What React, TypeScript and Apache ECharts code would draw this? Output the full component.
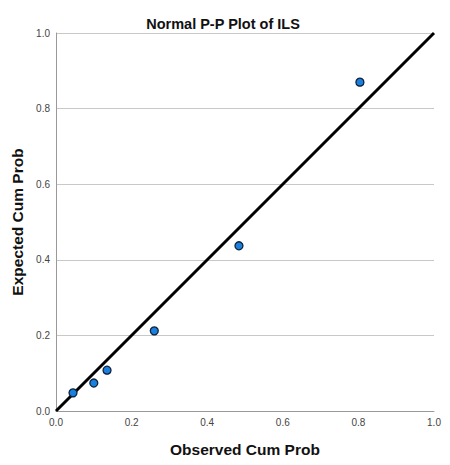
import React, { useEffect, useRef } from "react";
import * as echarts from "echarts";

const observed = [0.045, 0.1, 0.135, 0.26, 0.484, 0.804];
const expected = [0.048, 0.074, 0.108, 0.212, 0.437, 0.87];
const refLine = [[0, 0], [1, 1]];
const tickLabels = ["0.0", "0.2", "0.4", "0.6", "0.8", "1.0"];

export default function App() {
  const ref = useRef<HTMLDivElement>(null);
  useEffect(() => {
    const chart = echarts.init(ref.current!, null, { renderer: "svg" });
    const fmt = (v: number) => tickLabels[Math.round(v * 5)] ?? v.toFixed(1);
    const nameStyle = { fontSize: 15.5, fontWeight: "bold", color: "#111", fontFamily: "Liberation Sans, Arial, sans-serif" };
    chart.setOption({
      animation: false,
      title: {
        text: "Normal P-P Plot of ILS",
        left: 218,
        top: 11,
        textAlign: "center",
        textStyle: { fontSize: 14.5, fontWeight: "bold", color: "#111", fontFamily: "Liberation Sans, Arial, sans-serif" },
      },
      grid: { left: 56, right: 16, top: 33, bottom: 54, containLabel: false, outerBoundsMode: "none" },
      xAxis: {
        type: "value",
        min: 0,
        max: 1,
        interval: 0.2,
        name: "Observed Cum Prob",
        nameLocation: "middle",
        nameGap: 30,
        nameTextStyle: nameStyle,
        axisLine: { show: true, lineStyle: { color: "#999", width: 1 } },
        axisTick: { show: false },
        splitLine: { show: false },
        axisLabel: { fontSize: 10, color: "#444", margin: 6, formatter: fmt },
      },
      yAxis: {
        type: "value",
        min: 0,
        max: 1,
        interval: 0.2,
        name: "Expected Cum Prob",
        nameLocation: "middle",
        nameGap: 30,
        nameTextStyle: nameStyle,
        axisLine: { show: true, lineStyle: { color: "#999", width: 1 } },
        axisTick: { show: false },
        splitLine: { show: true, lineStyle: { color: "#c8c8c8", width: 1 } },
        axisLabel: { fontSize: 10, color: "#444", margin: 6, formatter: fmt },
      },
      series: [
        {
          type: "line",
          data: refLine,
          symbol: "none",
          lineStyle: { color: "#000", width: 3 },
          silent: true,
          z: 2,
        },
        {
          type: "scatter",
          data: observed.map((x, i) => [x, expected[i]]),
          symbolSize: 8,
          itemStyle: { color: "#1a80e0", borderColor: "#10233a", borderWidth: 1.3, opacity: 1 },
          z: 3,
        },
      ],
    });
    return () => chart.dispose();
  }, []);
  return <div ref={ref} style={{ width: 450, height: 465, margin: -8 }} />;
}
